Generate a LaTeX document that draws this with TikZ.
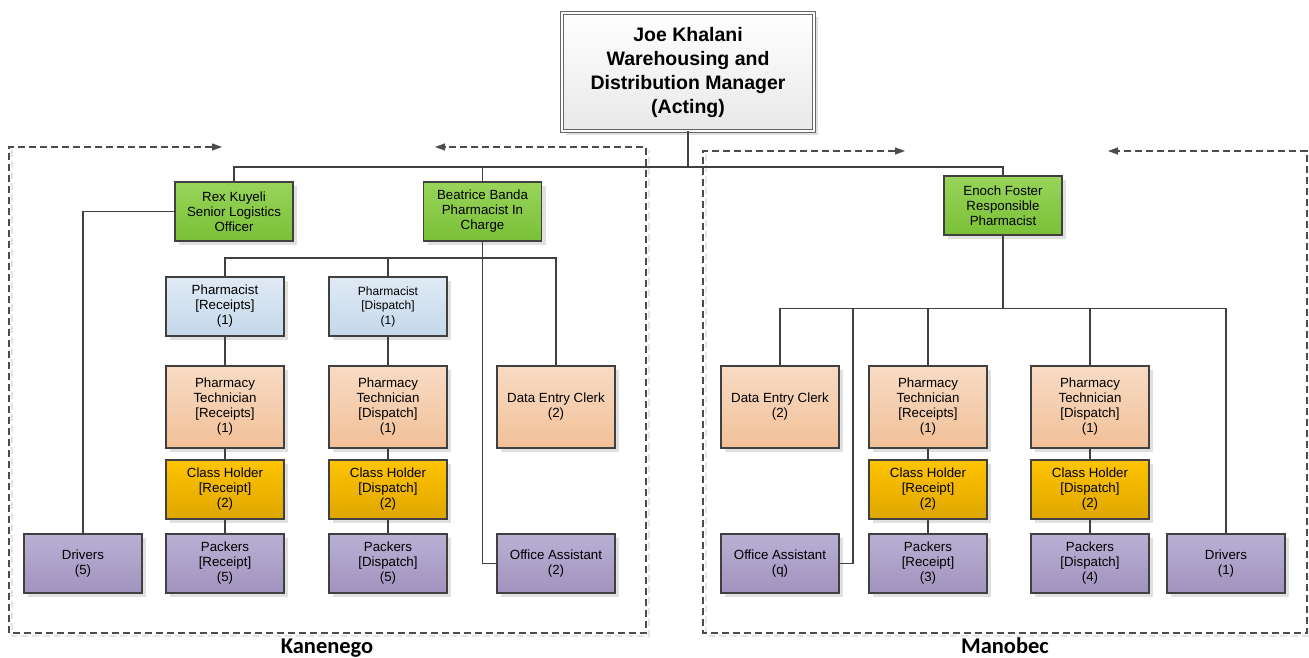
\documentclass[tikz,border=0pt]{standalone}
\usepackage{fontspec}
\setmainfont{Liberation Sans}
\newfontfamily\labfont{Carlito}
\usetikzlibrary{arrows.meta,shadows}
\definecolor{G1}{RGB}{152,212,90}
\definecolor{G2}{RGB}{122,192,55}
\definecolor{B1}{RGB}{224,234,245}
\definecolor{B2}{RGB}{196,216,234}
\definecolor{O1}{RGB}{248,219,196}
\definecolor{O2}{RGB}{241,192,152}
\definecolor{Y1}{RGB}{255,196,0}
\definecolor{Y2}{RGB}{222,166,0}
\definecolor{P1}{RGB}{186,176,212}
\definecolor{P2}{RGB}{160,147,190}
\definecolor{LN}{RGB}{64,64,64}
\tikzset{
  box/.style={draw=LN, line width=1.1pt, minimum width=118pt, minimum height=59pt,
    align=center, inner sep=1pt, font=\fontsize{13.3}{15}\selectfont,
    drop shadow={shadow xshift=4pt, shadow yshift=-4pt, fill=black!12, opacity=1}},
  gbox/.style={box, top color=G1, bottom color=G2},
  bbox/.style={box, top color=B1, bottom color=B2},
  obox/.style={box, minimum height=82pt, top color=O1, bottom color=O2},
  ybox/.style={box, top color=Y1, bottom color=Y2},
  pbox/.style={box, top color=P1, bottom color=P2},
  conn/.style={draw=LN, line width=1.1pt},
  frame/.style={draw=black!70, line width=1.1pt, dash pattern=on 7pt off 4pt,
    arrows={Triangle[length=10pt,width=7pt]-Triangle[length=10pt,width=7pt]}},
  fshadow/.style={draw=black!10, line width=1.4pt, dash pattern=on 7pt off 4pt},
  lab/.style={font=\labfont\bfseries\fontsize{22.5}{24}\selectfont, inner sep=0pt, anchor=base}
}
\begin{document}
\begin{tikzpicture}[x=1pt,y=-1pt]
\useasboundingbox (0,0) rectangle (1309,657);
% frames
\draw[fshadow] (12,150) -- (12,636) -- (649,636) -- (649,150);
\draw[fshadow] (706,154) -- (706,636) -- (1310,636);
\draw[frame] (222,147) -- (9,147) -- (9,633) -- (646,633) -- (646,147) -- (435,147);
\draw[frame] (905,151) -- (703,151) -- (703,633) -- (1307,633) -- (1307,151) -- (1108,151);
% top
\node[draw=black!60, line width=0.9pt, double=white, double distance=1.5pt,
  minimum width=252pt, minimum height=118pt, top color=white, bottom color=black!9,
  align=center, drop shadow={shadow xshift=4pt, shadow yshift=-4pt, fill=black!12, opacity=1},
  font=\bfseries\fontsize{19.5}{24}\selectfont] (top) at (688,72)
  {Joe Khalani\\Warehousing and\\Distribution Manager\\(Acting)};
% managers
\node[gbox] (rex) at (234,211.5) {Rex Kuyeli\\Senior Logistics\\Officer};
\node[gbox] (bea) at (482.5,211.5) {Beatrice Banda\\Pharmacist In\\Charge};
\node[gbox] (eno) at (1003,205.5) {Enoch Foster\\Responsible\\Pharmacist};
% Kanenego
\node[bbox] (phr) at (225,306.5) {Pharmacist\\[0pt][Receipts]\\(1)};
\node[bbox, font=\fontsize{12}{14.5}\selectfont] (phd) at (388,306.5) {Pharmacist\\[0pt][Dispatch]\\(1)};
\node[obox] (ptr) at (225,407) {Pharmacy\\Technician\\[0pt][Receipts]\\(1)};
\node[obox] (ptd) at (388,407) {Pharmacy\\Technician\\[0pt][Dispatch]\\(1)};
\node[obox] (dec) at (556,407) {Data Entry Clerk\\(2)};
\node[ybox] (chr) at (225,489.5) {Class Holder\\[0pt][Receipt]\\(2)};
\node[ybox] (chd) at (388,489.5) {Class Holder\\[0pt][Dispatch]\\(2)};
\node[pbox] (drv) at (83,563.5) {Drivers\\(5)};
\node[pbox] (pkr) at (225,563.5) {Packers\\[0pt][Receipt]\\(5)};
\node[pbox] (pkd) at (388,563.5) {Packers\\[0pt][Dispatch]\\(5)};
\node[pbox] (oa) at (556,563.5) {Office Assistant\\(2)};
% Manobec
\node[obox] (dec2) at (780,407) {Data Entry Clerk\\(2)};
\node[obox] (ptr2) at (928,407) {Pharmacy\\Technician\\[0pt][Receipts]\\(1)};
\node[obox] (ptd2) at (1090,407) {Pharmacy\\Technician\\[0pt][Dispatch]\\(1)};
\node[ybox] (chr2) at (928,489.5) {Class Holder\\[0pt][Receipt]\\(2)};
\node[ybox] (chd2) at (1090,489.5) {Class Holder\\[0pt][Dispatch]\\(2)};
\node[pbox] (oa2) at (780,563.5) {Office Assistant\\(q)};
\node[pbox] (pkr2) at (928,563.5) {Packers\\[0pt][Receipt]\\(3)};
\node[pbox] (pkd2) at (1090,563.5) {Packers\\[0pt][Dispatch]\\(4)};
\node[pbox] (drv2) at (1226,563.5) {Drivers\\(1)};
% labels
\node[lab] (kan) at (327,653) {Kanenego};
\node[lab] (man) at (1005,653) {Manobec};
% connectors
\coordinate (tj) at (688,167);
\coordinate (bj) at (482.5,258);
\coordinate (ej) at (1003,308.5);
\coordinate (oj) at (853,308.5);
\draw[conn] (top.south) -- (tj);
\draw[conn] (rex.north) |- (eno.north |- tj) -- (eno.north);
\draw[conn] (bea.north) -- (bea.north |- tj);
\draw[conn] (rex.west) -| (drv.north);
\draw[conn] (bea.south) -- (bj);
\draw[conn] (phr.north) |- (dec.north |- bj) -- (dec.north);
\draw[conn] (phd.north) -- (phd.north |- bj);
\draw[conn] (bj) |- (oa.west);
\draw[conn] (phr) -- (ptr) -- (chr) -- (pkr);
\draw[conn] (phd) -- (ptd) -- (chd) -- (pkd);
\draw[conn] (eno.south) -- (ej);
\draw[conn] (dec2.north) |- (drv2.north |- ej) -- (drv2.north);
\draw[conn] (ptr2.north) -- (ptr2.north |- ej);
\draw[conn] (ptd2.north) -- (ptd2.north |- ej);
\draw[conn] (oj) |- (oa2.east);
\draw[conn] (ptr2) -- (chr2) -- (pkr2);
\draw[conn] (ptd2) -- (chd2) -- (pkd2);
\end{tikzpicture}
\end{document}
